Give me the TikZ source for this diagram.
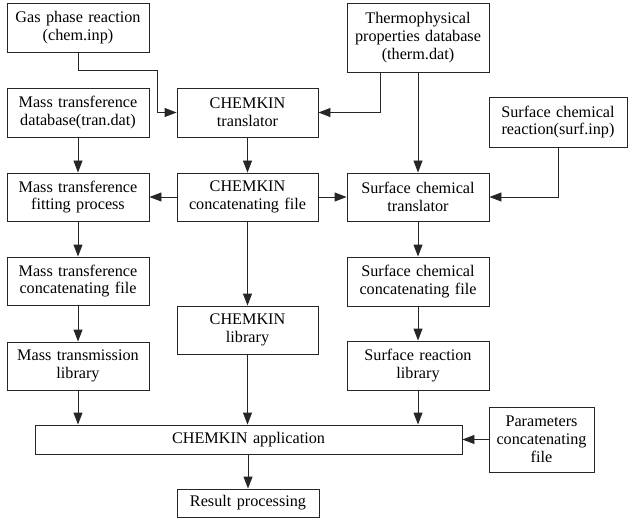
\documentclass[tikz,border=0pt]{standalone}
\usepackage{fontspec}
\setmainfont{Liberation Serif}
\usetikzlibrary{arrows.meta}
\begin{document}
\begin{tikzpicture}[x=1pt,y=-1pt,
  box/.style n args={2}{draw=black!85, line width=0.9pt, inner sep=0pt, align=center,
    text width=#1pt, minimum height=#2pt, font=\fontsize{16.2}{17.8}\selectfont},
  arr/.style={draw=black!85, line width=0.9pt, -{Triangle[length=12pt,width=9pt]}}]
\useasboundingbox (0,0) rectangle (628,521);
\node[box={142}{49}] (gas) at (78,27.5) {Gas phase reaction\\(chem.inp)};
\node[box={142}{49}] (tran) at (78,112.5) {Mass transference\\database(tran.dat)};
\node[box={141}{49}] (trans) at (247.5,112.5) {CHEMKIN\\translator};
\node[box={142}{69}] (thermo) at (418,37.5) {Thermophysical\\properties database\\(therm.dat)};
\node[box={138}{50}] (surfin) at (558,122) {Surface chemical\\reaction(surf.inp)};
\node[box={142}{48}] (fit) at (78,197) {Mass transference\\fitting process};
\node[box={141}{48}] (conc) at (247.5,197) {CHEMKIN\\concatenating file};
\node[box={142}{48}] (stran) at (418,197) {Surface chemical\\translator};
\node[box={142}{48}] (mconc) at (78,281) {Mass transference\\concatenating file};
\node[box={141}{48}] (clib) at (247.5,330) {CHEMKIN\\library};
\node[box={142}{49}] (sconc) at (418,281.5) {Surface chemical\\concatenating file};
\node[box={142}{48}] (mlib) at (78,366) {Mass transmission\\library};
\node[box={142}{49}] (slib) at (418,365.5) {Surface reaction\\library};
\node[box={427}{29}] (app) at (248.5,439.5) {CHEMKIN application};
\node[box={105}{65}] (param) at (541.5,439.5) {Parameters\\concatenating\\file};
\node[box={142}{28}] (result) at (248,503) {Result processing};
\coordinate (g1) at (157,70);
\coordinate (t1) at (380,72);
\draw[arr] (gas.south) |- (g1) |- (trans.west);
\draw[arr] (thermo.south -| t1) |- (trans.east);
\draw[arr] (thermo.south) -- (stran.north);
\draw[arr] (surfin.south) |- (stran.east);
\draw[arr] (tran.south) -- (fit.north);
\draw[arr] (trans.south) -- (conc.north);
\draw[arr] (conc.west) -- (fit.east);
\draw[arr] (conc.east) -- (stran.west);
\draw[arr] (fit.south) -- (mconc.north);
\draw[arr] (mconc.south) -- (mlib.north);
\draw[arr] (conc.south) -- (clib.north);
\draw[arr] (stran.south) -- (sconc.north);
\draw[arr] (sconc.south) -- (slib.north);
\draw[arr] (mlib.south) -- (mlib.south |- app.north);
\draw[arr] (clib.south) -- (clib.south |- app.north);
\draw[arr] (slib.south) -- (slib.south |- app.north);
\draw[arr] (param.west) -- (app.east);
\draw[arr] (result.north |- app.south) -- (result.north);
\end{tikzpicture}
\end{document}
